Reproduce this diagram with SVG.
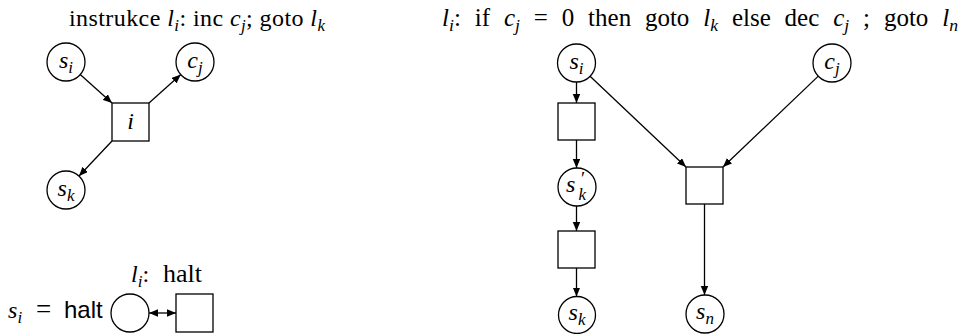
<svg xmlns="http://www.w3.org/2000/svg" width="963" height="334" viewBox="0 0 963 334">
<defs>
<marker id="ah" markerUnits="userSpaceOnUse" markerWidth="10" markerHeight="8" refX="9" refY="3.75" orient="auto-start-reverse"><path d="M0,0 L9,3.75 L0,7.5 z" fill="#000"/></marker>
</defs>
<style>
.p{fill:#fff;stroke:#000;stroke-width:1.3}
.t{fill:#fff;stroke:#000;stroke-width:1.3}
.c line{stroke:#000;stroke-width:1.3;marker-end:url(#ah)}
text{font-family:"Liberation Serif","DejaVu Serif",serif;fill:#000}
.tt{font-size:24px}
.tr{font-size:25px}
.lb{font-size:24px;text-anchor:middle}
.i{font-style:italic}
.s{font-size:17px;font-style:italic}
.sr{font-size:17.7px;font-style:italic}
.sans{font-family:"Liberation Sans","DejaVu Sans",sans-serif}
</style>
<rect width="963" height="334" fill="#fff"/>
<text class="tt" x="69" y="26" textLength="256" lengthAdjust="spacing">instrukce <tspan class="i">l</tspan><tspan class="s" dy="5">i</tspan><tspan dy="-5">: inc </tspan><tspan class="i">c</tspan><tspan class="s" dy="5">j</tspan><tspan dy="-5">; goto </tspan><tspan class="i">l</tspan><tspan class="s" dy="5">k</tspan></text>
<text class="tr" y="26"><tspan class="i" x="442">l</tspan><tspan class="sr" dy="5">i</tspan><tspan dy="-5">:</tspan><tspan x="474.7">if</tspan><tspan class="i" x="503.9">c</tspan><tspan class="sr" dy="5">j</tspan><tspan x="533.7" dy="-5">=</tspan><tspan x="561.7">0</tspan><tspan x="588.1">then</tspan><tspan x="644.9">goto</tspan><tspan class="i" x="703.2">l</tspan><tspan class="sr" dy="5">k</tspan><tspan x="731.9" dy="-5">else</tspan><tspan x="784.6">dec</tspan><tspan class="i" x="833.2">c</tspan><tspan class="sr" dy="5">j</tspan><tspan x="863.1" dy="-5">;</tspan><tspan x="883.9">goto</tspan><tspan class="i" x="942.2">l</tspan><tspan class="sr" dy="5">n</tspan></text>
<text class="tt" y="282"><tspan class="i" x="131">l</tspan><tspan class="s" dy="5">i</tspan><tspan dy="-5">:</tspan><tspan x="163" font-size="26">halt</tspan></text>
<text font-size="24" y="318"><tspan class="i" x="8">s</tspan><tspan class="s" x="17.5" dy="5">i</tspan><tspan x="36" dy="-5" font-size="27">=</tspan><tspan class="sans" x="64">halt</tspan></text>

<g id="L_si"><circle class="p" cx="66" cy="62" r="19"/><text class="lb" x="66" y="68"><tspan class="i">s</tspan><tspan class="s" dy="5">i</tspan></text></g>
<g id="L_cj"><circle class="p" cx="195" cy="62" r="19"/><text class="lb" x="195" y="68"><tspan class="i">c</tspan><tspan class="s" dy="5">j</tspan></text></g>
<g id="L_ti"><rect class="t" x="112" y="103" width="37" height="38"/><text class="lb i" x="130.5" y="129">i</text></g>
<g id="L_sk"><circle class="p" cx="66" cy="190" r="19"/><text class="lb" x="66" y="196"><tspan class="i">s</tspan><tspan class="s" dy="5">k</tspan></text></g>

<g id="H_p"><circle class="p" cx="130" cy="313" r="19"/></g>
<g id="H_t"><rect class="t" x="176" y="294" width="37" height="38"/></g>

<g id="R_si"><circle class="p" cx="576.5" cy="63" r="19"/><text class="lb" x="576.5" y="69"><tspan class="i">s</tspan><tspan class="s" dy="5">i</tspan></text></g>
<g id="R_cj"><circle class="p" cx="832" cy="63" r="19"/><text class="lb" x="832" y="69"><tspan class="i">c</tspan><tspan class="s" dy="5">j</tspan></text></g>
<g id="R_t1"><rect class="t" x="558" y="103" width="37" height="37"/></g>
<g id="R_skp"><circle class="p" cx="577" cy="187" r="19"/><text font-size="24"><tspan class="i" x="566" y="192">s</tspan><tspan x="581" y="185" font-size="19">′</tspan><tspan class="s" x="578.5" y="200">k</tspan></text></g>
<g id="R_t2"><rect class="t" x="558" y="231" width="37" height="37"/></g>
<g id="R_sk"><circle class="p" cx="577" cy="315" r="18.5"/><text class="lb" x="577" y="320"><tspan class="i">s</tspan><tspan class="s" dy="5">k</tspan></text></g>
<g id="R_t3"><rect class="t" x="686" y="167" width="37" height="37"/></g>
<g id="R_sn"><circle class="p" cx="705" cy="314" r="19"/><text class="lb" x="705" y="319"><tspan class="i">s</tspan><tspan class="s" dy="5">n</tspan></text></g>

<g id="connectors" class="c">
<line x1="80.2" y1="74.6" x2="112" y2="103"/>
<line x1="149" y1="103" x2="180.8" y2="74.6"/>
<line x1="112" y1="141" x2="79" y2="176"/>
<line x1="149" y1="313" x2="176" y2="313" style="marker-start:url(#ah)"/>
<line x1="576.5" y1="82" x2="576.5" y2="103"/>
<line x1="576.5" y1="140" x2="576.5" y2="168"/>
<line x1="576.5" y1="206" x2="576.5" y2="231"/>
<line x1="576.5" y1="268" x2="576.5" y2="296.5"/>
<line x1="589.8" y1="76" x2="686" y2="167"/>
<line x1="818.3" y1="76.1" x2="723" y2="167"/>
<line x1="704.5" y1="204" x2="704.5" y2="295"/>
</g>
</svg>
